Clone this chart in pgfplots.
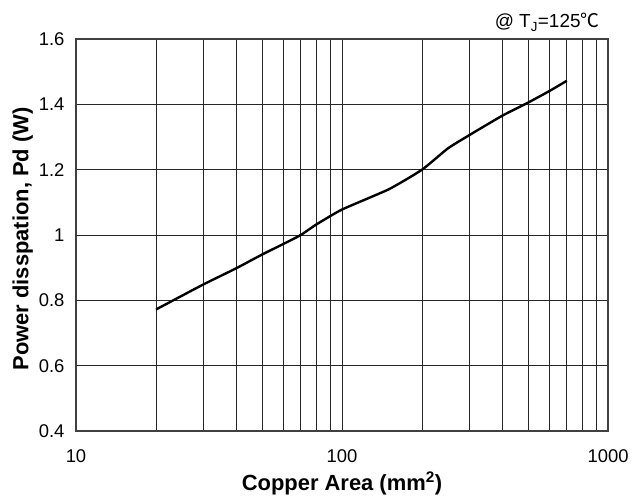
\documentclass[border=0pt]{standalone}
\usepackage{pgfplots}
\pgfplotsset{compat=1.18}
\usepackage{fontspec}
\setmainfont{Liberation Sans}
\newfontfamily\cjk{Noto Sans CJK SC}
\begin{document}
\begin{tikzpicture}
\begin{axis}[
  name=ax,
  scale only axis,
  width=532bp, height=392bp,
  xmode=log,
  xmin=10, xmax=1000,
  ymin=0.4, ymax=1.6,
  ytick={0.4,0.6,0.8,1,1.2,1.4,1.6},
  yticklabels={0.4,0.6,0.8,1,1.2,1.4,1.6},
  xtick={10,100,1000},
  xticklabels={10,100,1000},
  minor xtick={20,30,40,50,60,70,80,90,200,300,400,500,600,700,800,900},
  grid=both,
  major grid style={black!85, line width=0.6bp},
  minor grid style={black!85, line width=0.6bp},
  axis line style={black!75, line width=1.2bp},
  major tick length=0pt, minor tick length=0pt,
  tick label style={font=\fontsize{18.5}{20}\selectfont},
  /pgf/number format/assume math mode=true,
  xticklabel style={anchor=base, yshift=-31bp},
  yticklabel style={anchor=east, xshift=-8bp},
  xlabel={\textbf{Copper Area (mm\textsuperscript{2})}},
  ylabel={\textbf{Power disspation, Pd (W)}},
  label style={font=\fontsize{22}{24}\selectfont},
  xlabel style={at={(axis description cs:0.5,0)}, anchor=base, yshift=-59bp},
  ylabel style={at={(axis description cs:-0.1,0.49)}, anchor=center},
  clip=false,
]
\addplot[black, line width=2.4bp, smooth, tension=0.3] coordinates {
  (20,0.772) (30,0.848) (40,0.898) (50,0.940) (60,0.972) (70,1.000) (80,1.032)
  (100,1.078) (150,1.140) (200,1.200) (250,1.265) (300,1.305) (400,1.365)
  (500,1.405) (600,1.440) (700,1.472)
};
\end{axis}
\node[anchor=base east, font=\fontsize{19}{22}\selectfont] at ([shift={(-5bp,11bp)}]ax.north east) {\fontspec{Liberation Sans}@ T\textsubscript{J}=125{\cjk ℃}};
\pgfresetboundingbox
\path ([shift={(-76bp,-68bp)}]ax.south west) rectangle ([shift={(27bp,39bp)}]ax.north east);
\end{tikzpicture}
\end{document}
